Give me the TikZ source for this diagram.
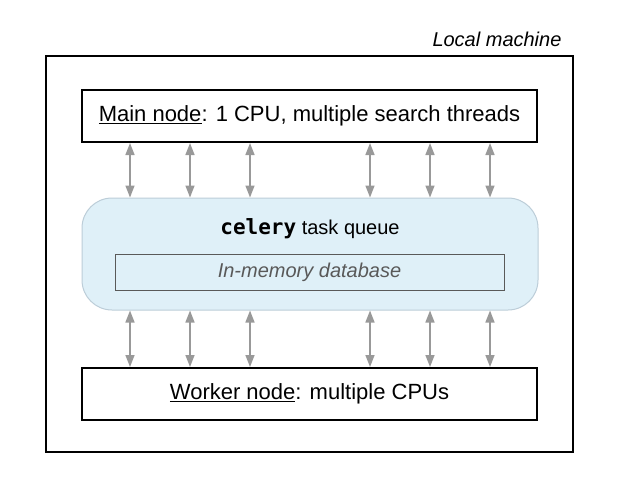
\documentclass[tikz,border=0pt]{standalone}
\usepackage{fontspec}
\setmainfont{Liberation Sans}
\newfontfamily\codefont{DejaVu Sans Mono}
\usetikzlibrary{arrows.meta,calc}
\definecolor{qfill}{HTML}{DFF0F8}
\definecolor{qdraw}{HTML}{BCCDD8}
\definecolor{agray}{HTML}{999999}
\definecolor{dbtext}{HTML}{595959}
\tikzset{
  machine/.style={draw=black, line width=1.5pt, rectangle, minimum width=527pt, minimum height=396pt, inner sep=0pt},
  nodebox/.style={draw=black, line width=2pt, rectangle, minimum width=455pt, minimum height=52pt, inner sep=0pt, font=\fontsize{22}{26}\selectfont},
  queuebox/.style={draw=qdraw, fill=qfill, line width=1pt, rounded corners=30pt, minimum width=456pt, minimum height=112pt, inner sep=0pt},
  dbbox/.style={draw=black!65, line width=1pt, fill=qfill, minimum width=389pt, minimum height=36pt, inner sep=0pt, font=\fontsize{20}{24}\selectfont\itshape, text=dbtext},
  biarrow/.style={draw=agray, line width=1.6pt, {Triangle[length=12pt,width=9pt]}-{Triangle[length=12pt,width=9pt]}},
}
\begin{document}
\begin{tikzpicture}[x=1pt,y=-1pt]
\useasboundingbox (0,0) rectangle (627,485);
\node[machine] (machine) at (309.5,254) {};
\node[anchor=base east, font=\fontsize{20}{24}\selectfont\itshape] (label) at (565,46) {Local machine};
\node[nodebox] (main) at (309.5,116) {\underline{Main node}: 1 CPU, multiple search threads};
\node[nodebox] (worker) at (309.5,394) {\underline{Worker node}: multiple CPUs};
\node[queuebox] (queue) at (310,254) {};
\node[font=\fontsize{20}{24}\selectfont] (qlabel) at (310,229) {{\codefont\bfseries\fontsize{21}{24}\selectfont celery} task queue};
\node[dbbox] (db) at (309.5,272) {In-memory database};
\foreach \i/\x in {1/130,2/190,3/250,4/370,5/430,6/490}{
  \coordinate (a\i) at (\x,0);
  \draw[biarrow] (main.south -| a\i) -- (queue.north -| a\i);
  \draw[biarrow] (queue.south -| a\i) -- (worker.north -| a\i);
}
\end{tikzpicture}
\end{document}
